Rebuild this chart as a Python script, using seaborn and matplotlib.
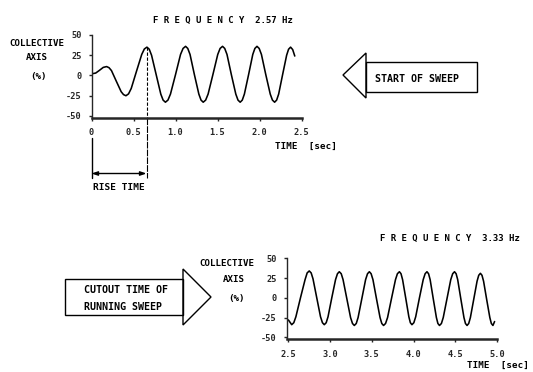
import matplotlib
matplotlib.use("Agg")
import matplotlib.pyplot as plt
import matplotlib.patches as mpatches
import seaborn as sns
import pandas as pd

# ---------------- data ----------------
upper_t = [0.00, 0.05, 0.09, 0.14, 0.18, 0.209, 0.238, 0.295, 0.353, 0.381, 0.41,
           0.441, 0.473, 0.535, 0.598, 0.629, 0.66, 0.6875, 0.715, 0.77, 0.825, 0.8525,
           0.88, 0.91, 0.94, 1.00, 1.06, 1.09, 1.12, 1.146, 1.173, 1.225, 1.278, 1.304,
           1.33, 1.359, 1.388, 1.445, 1.503, 1.531, 1.56, 1.586, 1.613, 1.665, 1.718,
           1.744, 1.77, 1.795, 1.82, 1.87, 1.92, 1.945, 1.97, 1.996, 2.023, 2.075,
           2.128, 2.154, 2.18, 2.204, 2.228, 2.275, 2.323, 2.346, 2.37, 2.395, 2.42]
upper_v = [2, 3, 6, 10, 11, 9.6, 6, -7, -20, -23.6, -25,
           -22.7, -16, 5, 26, 32.7, 35, 32.4, 25, 1, -23, -30.4,
           -33, -30.4, -23, 1, 26, 33.4, 36, 33.4, 26, 1, -23, -30.4,
           -33, -30.4, -23, 1, 26, 33.4, 36, 33.4, 26, 1, -23,
           -30.4, -33, -30.4, -23, 1, 26, 33.4, 36, 33.4, 26, 1,
           -23, -30.4, -33, -30.4, -23, 1, 25, 32.4, 35, 32, 24]

lower_t = [2.50, 2.54, 2.565, 2.59, 2.645, 2.70, 2.725, 2.75, 2.773, 2.795, 2.84,
           2.885, 2.908, 2.93, 2.953, 2.975, 3.02, 3.065, 3.088, 3.11, 3.133, 3.155,
           3.20, 3.245, 3.268, 3.29, 3.313, 3.335, 3.38, 3.425, 3.448, 3.47, 3.491,
           3.513, 3.555, 3.598, 3.619, 3.64, 3.664, 3.688, 3.735, 3.783, 3.806, 3.83,
           3.849, 3.868, 3.905, 3.943, 3.961, 3.98, 4.003, 4.025, 4.07, 4.115, 4.138,
           4.16, 4.179, 4.198, 4.235, 4.273, 4.291, 4.31, 4.333, 4.355, 4.40, 4.445,
           4.468, 4.49, 4.509, 4.528, 4.565, 4.603, 4.621, 4.64, 4.66, 4.68, 4.72,
           4.76, 4.78, 4.80, 4.819, 4.838, 4.875, 4.913, 4.931, 4.95, 4.97]
lower_v = [-28, -34, -31.5, -24, 0, 23, 31.5, 34, 31.5, 24, 0,
           -24, -31.5, -34, -31.5, -24, 0, 23, 30.5, 33, 30.5, 23,
           -1, -25, -32.5, -35, -32.5, -25, -1, 23, 30.5, 33, 30.5,
           23, -1, -25, -32.5, -35, -32.5, -25, -1, 23, 30.5, 33,
           30.5, 23, 0, -24, -31.5, -34, -31.5, -24, 0, 23, 30.5,
           33, 30.5, 23, -1, -25, -32.5, -35, -32.5, -25, -1, 23,
           30.5, 33, 30.5, 23, -1, -25, -32.5, -35, -32.5, -25, -2,
           21, 28.5, 31, 28.5, 21, -2, -25, -32.5, -35, -30]

y_ticks = [50, 25, 0, -25, -50]
y_ticklabels = ["50", "25", "0", "-25", "-50"]
upper_xticks = [0, 0.5, 1.0, 1.5, 2.0, 2.5]
upper_xticklabels = ["0", "0.5", "1.0", "1.5", "2.0", "2.5"]
lower_xticks = [2.5, 3.0, 3.5, 4.0, 4.5, 5.0]
lower_xticklabels = ["2.5", "3.0", "3.5", "4.0", "4.5", "5.0"]

upper_title = "F R E Q U E N C Y  2.57 Hz"
lower_title = "F R E Q U E N C Y  3.33 Hz"
ylabel_lines = ["COLLECTIVE", "AXIS", "(%)"]
xlabel = "TIME  [sec]"
rise_time = 0.655
rise_peak = 35

# ---------------- style ----------------
sns.set_style("ticks")
plt.rcParams["font.family"] = ["DejaVu Sans Mono", "DejaVu Sans"]
plt.rcParams["font.weight"] = "bold"

W, H = 533, 372
fig = plt.figure(figsize=(W / 100, H / 100), dpi=100)
fig.patch.set_facecolor("white")


def fx(x):
    return x / W


def fy(y):
    return 1 - y / H


def ftext(x, y, s, size=6.8, ha="left", va="center"):
    fig.text(fx(x), fy(y), s, fontsize=size, ha=ha, va=va,
             fontweight="bold", color="black")


def style_axes(ax, xticks, xlabels, xlim):
    ax.set_xlim(*xlim)
    ax.set_ylim(-52.5, 50)
    ax.set_yticks(y_ticks)
    ax.set_yticklabels(y_ticklabels)
    ax.set_xticks(xticks)
    ax.set_xticklabels(xlabels)
    ax.set_xlabel("")
    ax.set_ylabel("")
    for s in ["top", "right"]:
        ax.spines[s].set_visible(False)
    ax.spines["left"].set_linewidth(1.0)
    ax.spines["bottom"].set_linewidth(1.8)
    ax.spines["left"].set_bounds(-52.5, 50)
    ax.tick_params(axis="y", direction="out", length=2.5, width=1.0,
                   pad=4.5, labelsize=6.2)
    ax.tick_params(axis="x", direction="out", length=2.0, width=1.0,
                   pad=5.5, labelsize=6.2)
    for lab in ax.get_xticklabels() + ax.get_yticklabels():
        lab.set_fontweight("bold")
    ax.patch.set_alpha(0)


# ---------------- upper plot ----------------
ax1 = fig.add_axes([fx(91.5), fy(118), fx(210), 83 / H])
df_u = pd.DataFrame({"t": upper_t, "v": upper_v})
sns.lineplot(data=df_u, x="t", y="v", ax=ax1, color="black", linewidth=1.15,
             estimator=None, sort=False)
style_axes(ax1, upper_xticks, upper_xticklabels, (0, 2.5))

# dashed line at rise-time end
ax1.plot([rise_time, rise_time], [rise_peak, -52.5], color="black",
         lw=0.8, ls=(0, (3, 1.5)))
tr = ax1.get_xaxis_transform()
frac = lambda ypx: (118 - ypx) / 83
ax1.plot([rise_time, rise_time], [0, frac(178)], transform=tr, color="black",
         lw=0.8, ls=(0, (6, 1)), clip_on=False)
ax1.plot([0, 0], [frac(138), frac(178)], transform=tr, color="black",
         lw=1.0, clip_on=False)
ax1.annotate("", xy=(0, frac(173.5)), xytext=(rise_time, frac(173.5)),
             xycoords=tr, textcoords=tr,
             arrowprops=dict(arrowstyle="<|-|>,head_length=0.35,head_width=0.12",
                             color="black", lw=1.0, shrinkA=0, shrinkB=0))

ftext(153, 20, upper_title, size=6.5)
ftext(37, 44, ylabel_lines[0], size=6.6, ha="center")
ftext(37, 58, ylabel_lines[1], size=6.6, ha="center")
ftext(39, 76, ylabel_lines[2], size=6.6, ha="center")
ftext(275, 146, xlabel, size=6.7)
ftext(118.5, 187, "RISE TIME", size=6.8, ha="center")

# START OF SWEEP arrow (left-pointing)
tri1 = mpatches.Polygon([(fx(343), fy(75)), (fx(366), fy(53)), (fx(366), fy(98))],
                        closed=True, fill=False, ec="black", lw=1.0,
                        transform=fig.transFigure)
box1 = mpatches.Rectangle((fx(366), fy(92)), fx(477) - fx(366), fy(62) - fy(92),
                          fill=False, ec="black", lw=1.0, transform=fig.transFigure)
fig.patches.extend([tri1, box1])
ftext(375, 79, "START OF SWEEP", size=7.2)

# ---------------- lower plot ----------------
ax2 = fig.add_axes([fx(286.7), fy(339.3), fx(210.4), 81 / H])
df_l = pd.DataFrame({"t": lower_t, "v": lower_v})
sns.lineplot(data=df_l, x="t", y="v", ax=ax2, color="black", linewidth=1.15,
             estimator=None, sort=False)
style_axes(ax2, lower_xticks, lower_xticklabels, (2.48, 5.0))

ftext(380, 238, lower_title, size=6.5)
ftext(227, 263, ylabel_lines[0], size=6.6, ha="center")
ftext(234, 280, ylabel_lines[1], size=6.6, ha="center")
ftext(237, 299, ylabel_lines[2], size=6.6, ha="center")
ftext(467, 365, xlabel, size=6.7)

# CUTOUT arrow (right-pointing)
box2 = mpatches.Rectangle((fx(65), fy(315)), fx(183) - fx(65), fy(279) - fy(315),
                          fill=False, ec="black", lw=1.0, transform=fig.transFigure)
tri2 = mpatches.Polygon([(fx(211), fy(297)), (fx(183), fy(269)), (fx(183), fy(325))],
                        closed=True, fill=False, ec="black", lw=1.0,
                        transform=fig.transFigure)
fig.patches.extend([box2, tri2])
ftext(84, 290, "CUTOUT TIME OF", size=7.2)
ftext(84, 307, "RUNNING SWEEP", size=7.2)

fig.savefig("out.png", dpi=100, facecolor="white")
